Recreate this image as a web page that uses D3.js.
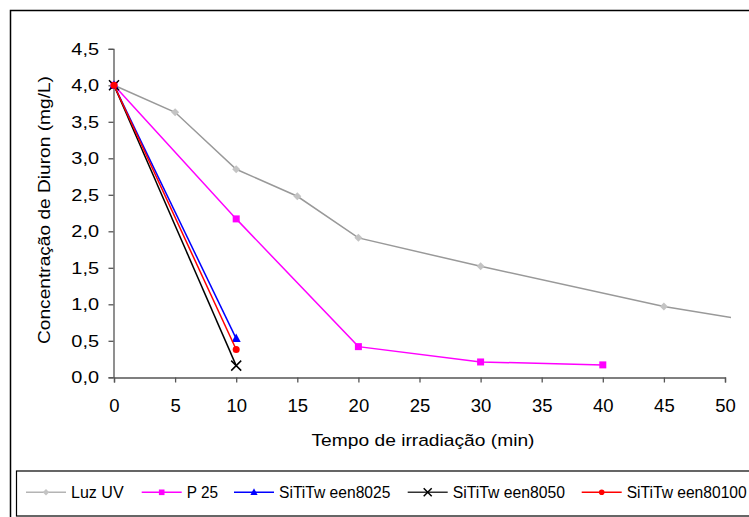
<!DOCTYPE html>
<html><head><meta charset="utf-8">
<script src="https://cdn.jsdelivr.net/npm/d3@7"></script>
<style>body{margin:0;background:#fff}svg{display:block}text{font-family:"Liberation Sans",Arial,sans-serif;fill:#000}</style>
</head><body>
<script>
const seriesNames = ["Luz UV", "P 25", "SiTiTw een8025", "SiTiTw een8050", "SiTiTw een80100"];
const seriesColors = ["#999999", "#ff00ff", "#0000ff", "#000000", "#ff0000"];
const markerColors = ["#c4c4c4", "#ff00ff", "#0000ff", "#000000", "#ff0000"];
const markerTypes = ["diamond", "square", "triangle", "cross", "circle"];
const luzUvX = [0, 5, 10, 15, 20, 30, 45, 60];
const luzUvY = [4.0, 3.63, 2.85, 2.48, 1.91, 1.52, 0.97, 0.56];
const p25X = [0, 10, 20, 30, 40];
const p25Y = [4.0, 2.17, 0.42, 0.21, 0.17];
const s8025X = [0, 10];
const s8025Y = [4.0, 0.53];
const s8050X = [0, 10];
const s8050Y = [4.0, 0.16];
const s80100X = [0, 10];
const s80100Y = [4.0, 0.38];
const xTicks = [0, 5, 10, 15, 20, 25, 30, 35, 40, 45, 50];
const yTicks = [0, 0.5, 1.0, 1.5, 2.0, 2.5, 3.0, 3.5, 4.0, 4.5];
const xTitle = "Tempo de irradiação (min)";
const yTitle = "Concentração de Diuron (mg/L)";

const allX = [luzUvX, p25X, s8025X, s8050X, s80100X];
const allY = [luzUvY, p25Y, s8025Y, s8050Y, s80100Y];
const series = seriesNames.map((n, i) => ({name: n, color: seriesColors[i], mcolor: markerColors[i], marker: markerTypes[i],
  pts: allX[i].map((x, j) => ({x, y: allY[i][j]}))}));

const W = 749, H = 517;
const svg = d3.select("body").append("svg").attr("width", W).attr("height", H);
const fmt = v => d3.format(".1f")(v).replace(".", ",");

// outer chart border
svg.append("rect").attr("x", 10.5).attr("y", 10.5).attr("width", 760).attr("height", 540)
  .attr("fill", "none").attr("stroke", "#000").attr("stroke-width", 1.5);

const x = d3.scaleLinear().domain([0, 50]).range([114, 725]);
const y = d3.scaleLinear().domain([0, 4.5]).range([377.3, 48.8]);

const axisColor = "#555";
const xAxis = svg.append("g").attr("transform", "translate(0,377.5)")
  .call(d3.axisBottom(x).tickValues(xTicks).tickFormat(d3.format("d")).tickSize(5).tickPadding(16));
const yAxis = svg.append("g").attr("transform", "translate(113.5,0)")
  .call(d3.axisLeft(y).tickValues(yTicks).tickFormat(fmt).tickSize(5).tickPadding(9.5));
[xAxis, yAxis].forEach(a => {
  a.selectAll("path,line").attr("stroke", axisColor).attr("stroke-width", 1.3);
  a.selectAll("text").attr("fill", "#000");
});
xAxis.selectAll("text").style("font-size", "18.5px");
yAxis.selectAll("text").style("font-size", "16.3px").attr("textLength", 27.7).attr("lengthAdjust", "spacingAndGlyphs");

svg.append("text").attr("x", 423).attr("y", 446).attr("text-anchor", "middle").style("font-size", "16.8px")
  .attr("textLength", 223).attr("lengthAdjust", "spacingAndGlyphs").text(xTitle);
svg.append("text").attr("transform", "translate(50,210) rotate(-90)").attr("text-anchor", "middle").style("font-size", "16.8px")
  .attr("textLength", 268).attr("lengthAdjust", "spacingAndGlyphs").text(yTitle);

svg.append("clipPath").attr("id", "clip").append("rect").attr("x", 100).attr("y", 30).attr("width", 631).attr("height", 360);

const line = d3.line().x(d => x(d.x)).y(d => y(d.y));

function drawMarker(g, type, color, cx, cy, k) {
  k = k || 1;
  if (type === "diamond") g.append("path").attr("d", `M${cx},${cy-4*k}L${cx+4*k},${cy}L${cx},${cy+4*k}L${cx-4*k},${cy}Z`).attr("fill", color);
  else if (type === "square") g.append("rect").attr("x", cx-3.5*k).attr("y", cy-3.5*k).attr("width", 7*k).attr("height", 7*k).attr("fill", color);
  else if (type === "triangle") g.append("path").attr("d", `M${cx},${cy-5*k}L${cx+4.5*k},${cy+3.5*k}L${cx-4.5*k},${cy+3.5*k}Z`).attr("fill", color);
  else if (type === "cross") g.append("path").attr("d", `M${cx-5*k},${cy-5*k}L${cx+5*k},${cy+5*k}M${cx+5*k},${cy-5*k}L${cx-5*k},${cy+5*k}`).attr("stroke", color).attr("stroke-width", 1.5).attr("fill", "none");
  else if (type === "circle") g.append("circle").attr("cx", cx).attr("cy", cy).attr("r", 3.5*k).attr("fill", color);
}

const plot = svg.append("g").attr("clip-path", "url(#clip)");
series.forEach(s => {
  const g = plot.append("g");
  g.append("path").datum(s.pts).attr("d", line).attr("fill", "none").attr("stroke", s.color).attr("stroke-width", 1.5);
  s.pts.forEach(p => drawMarker(g, s.marker, s.mcolor, x(p.x), y(p.y)));
});

// legend
svg.append("rect").attr("x", 16.5).attr("y", 471).attr("width", 760).attr("height", 45)
  .attr("fill", "none").attr("stroke", "#000").attr("stroke-width", 1.2);
const legX = [26, 141.7, 234, 407.7, 581.7];
const legW = [52.6, 31.3, 111.4, 112.3, 120];
const legendColors = ["#b4b4b4", "#ff00ff", "#0000ff", "#333333", "#ff0000"];
series.forEach((s, i) => {
  const g = svg.append("g");
  const lx = legX[i], ly = 492.3;
  g.append("line").attr("x1", lx).attr("x2", lx + 40).attr("y1", ly).attr("y2", ly).attr("stroke", legendColors[i]).attr("stroke-width", 1.5);
  drawMarker(g, s.marker, s.mcolor, lx + 20, ly, 0.8);
  g.append("text").attr("x", lx + 45).attr("y", 497.5).style("font-size", "16px")
    .attr("textLength", legW[i]).attr("lengthAdjust", "spacingAndGlyphs").text(s.name);
});
</script>
</body></html>
